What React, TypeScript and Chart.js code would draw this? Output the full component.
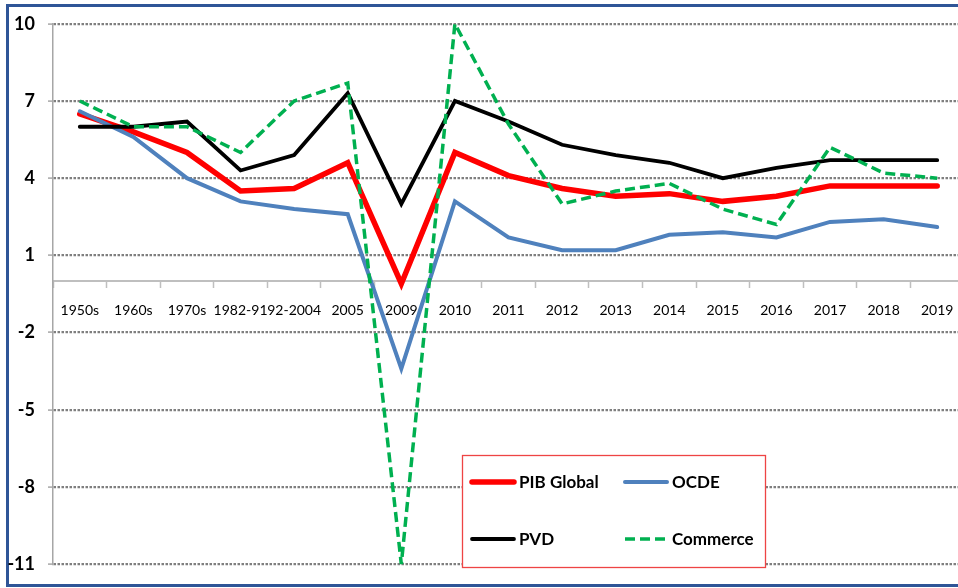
import React, { useEffect, useRef } from "react";
import { Chart, registerables } from "chart.js";

Chart.register(...registerables);

const categories = [
  "1950s", "1960s", "1970s", "1982-91", "92-2004", "2005", "2009", "2010",
  "2011", "2012", "2013", "2014", "2015", "2016", "2017", "2018", "2019",
];
const pibGlobal = [6.5, 5.8, 5.0, 3.5, 3.6, 4.6, -0.1, 5.0, 4.1, 3.6, 3.3, 3.4, 3.1, 3.3, 3.7, 3.7, 3.7];
const ocde = [6.6, 5.6, 4.0, 3.1, 2.8, 2.6, -3.4, 3.1, 1.7, 1.2, 1.2, 1.8, 1.9, 1.7, 2.3, 2.4, 2.1];
const pvd = [6.0, 6.0, 6.2, 4.3, 4.9, 7.3, 3.0, 7.0, 6.2, 5.3, 4.9, 4.6, 4.0, 4.4, 4.7, 4.7, 4.7];
const commerce = [7.0, 6.0, 6.0, 5.0, 7.0, 7.7, -11.0, 10.0, 6.1, 3.0, 3.5, 3.8, 2.8, 2.2, 5.2, 4.2, 4.0];
const yTicks = [-11, -8, -5, -2, 1, 4, 7, 10];

const FONT = "Lato, 'Open Sans', sans-serif";

const legendBox = {
  id: "legendBox",
  afterDraw(chart: any) {
    const ctx = chart.ctx as CanvasRenderingContext2D;
    const bx = 462.5, by = 455.5, bw = 303, bh = 112;
    ctx.save();
    ctx.fillStyle = "#ffffff";
    ctx.fillRect(bx, by, bw, bh);
    ctx.strokeStyle = "#EE4444";
    ctx.lineWidth = 1.3;
    ctx.strokeRect(bx, by, bw, bh);
    ctx.font = `bold 17px ${FONT}`;
    ctx.textBaseline = "middle";
    ctx.fillStyle = "#000";
    chart.data.datasets.forEach((ds: any, i: number) => {
      const col = i % 2, row = Math.floor(i / 2);
      const x0 = 472 + col * 153;
      const y0 = 482 + row * 57;
      ctx.beginPath();
      ctx.strokeStyle = ds.borderColor;
      ctx.lineWidth = ds.borderWidth;
      ctx.lineCap = ds.borderDash ? "butt" : "round";
      ctx.setLineDash(ds.borderDash || []);
      ctx.moveTo(x0, y0);
      ctx.lineTo(x0 + 42, y0);
      ctx.stroke();
      ctx.setLineDash([]);
      ctx.fillText(ds.label, x0 + 47, y0 + 1);
    });
    ctx.restore();
  },
};

export default function App() {
  const ref = useRef<HTMLCanvasElement | null>(null);
  useEffect(() => {
    if (!ref.current) return;
    const chart = new Chart(ref.current, {
      type: "line",
      data: {
        labels: categories,
        datasets: [
          { label: "PIB Global", data: pibGlobal, borderColor: "#FF0000", borderWidth: 5.5, order: 3, borderCapStyle: "round" },
          { label: "OCDE", data: ocde, borderColor: "#4F81BD", borderWidth: 4, order: 2, borderCapStyle: "round" },
          { label: "PVD", data: pvd, borderColor: "#000000", borderWidth: 3.8, order: 1, borderCapStyle: "round" },
          { label: "Commerce", data: commerce, borderColor: "#00B050", borderWidth: 3.5, borderDash: [10, 5], order: 0 },
        ] as any,
      },
      options: {
        responsive: false,
        animation: false,
        events: [],
        layout: { padding: { left: 0, right: 11, top: 22, bottom: 14 } },
        elements: { point: { radius: 0 }, line: { tension: 0, fill: false } },
        plugins: { legend: { display: false }, tooltip: { enabled: false } },
        scales: {
          x: {
            type: "category",
            position: { y: 0 } as any,
            offset: true,
            grid: {
              display: true,
              drawOnChartArea: false,
              drawTicks: true,
              offset: true,
              tickLength: 6,
              tickColor: "#BFBFBF",
              tickWidth: 1.5,
              color: "#BFBFBF",
            },
            border: { display: true, color: "#BFBFBF", width: 2 },
            ticks: {
              autoSkip: false,
              maxRotation: 0,
              minRotation: 0,
              padding: 15,
              color: "#000",
              font: { family: FONT, size: 14 },
            },
          },
          y: {
            type: "linear",
            min: -11,
            max: 10,
            afterBuildTicks: (scale: any) => {
              scale.ticks = yTicks.map((v) => ({ value: v }));
            },
            afterFit: (scale: any) => {
              scale.width = 53;
            },
            grid: {
              color: "#7F7F7F",
              lineWidth: 2.2,
              drawTicks: true,
              tickLength: 5,
              tickColor: "#A6A6A6",
              tickWidth: 1.5,
              tickBorderDash: [],
            } as any,
            border: { display: true, color: "#A6A6A6", width: 1.5, dash: [2.5, 1.5] },
            ticks: {
              padding: 13,
              color: "#000",
              font: { family: FONT, size: 18, weight: "bold" },
            },
          },
        },
      },
      plugins: [legendBox],
    });
    return () => chart.destroy();
  }, []);

  return (
    <div style={{ position: "absolute", left: 0, top: 0, width: 958, height: 588, overflow: "hidden", background: "#fff" }}>
      <div
        style={{
          position: "absolute",
          left: 6,
          top: 4,
          width: 1000,
          height: 583,
          border: "3px solid #2F5597",
          boxSizing: "border-box",
        }}
      />
      <canvas
        ref={ref}
        width={975}
        height={588}
        style={{ position: "absolute", left: 0, top: 0, width: 975, height: 588 }}
      />
    </div>
  );
}
